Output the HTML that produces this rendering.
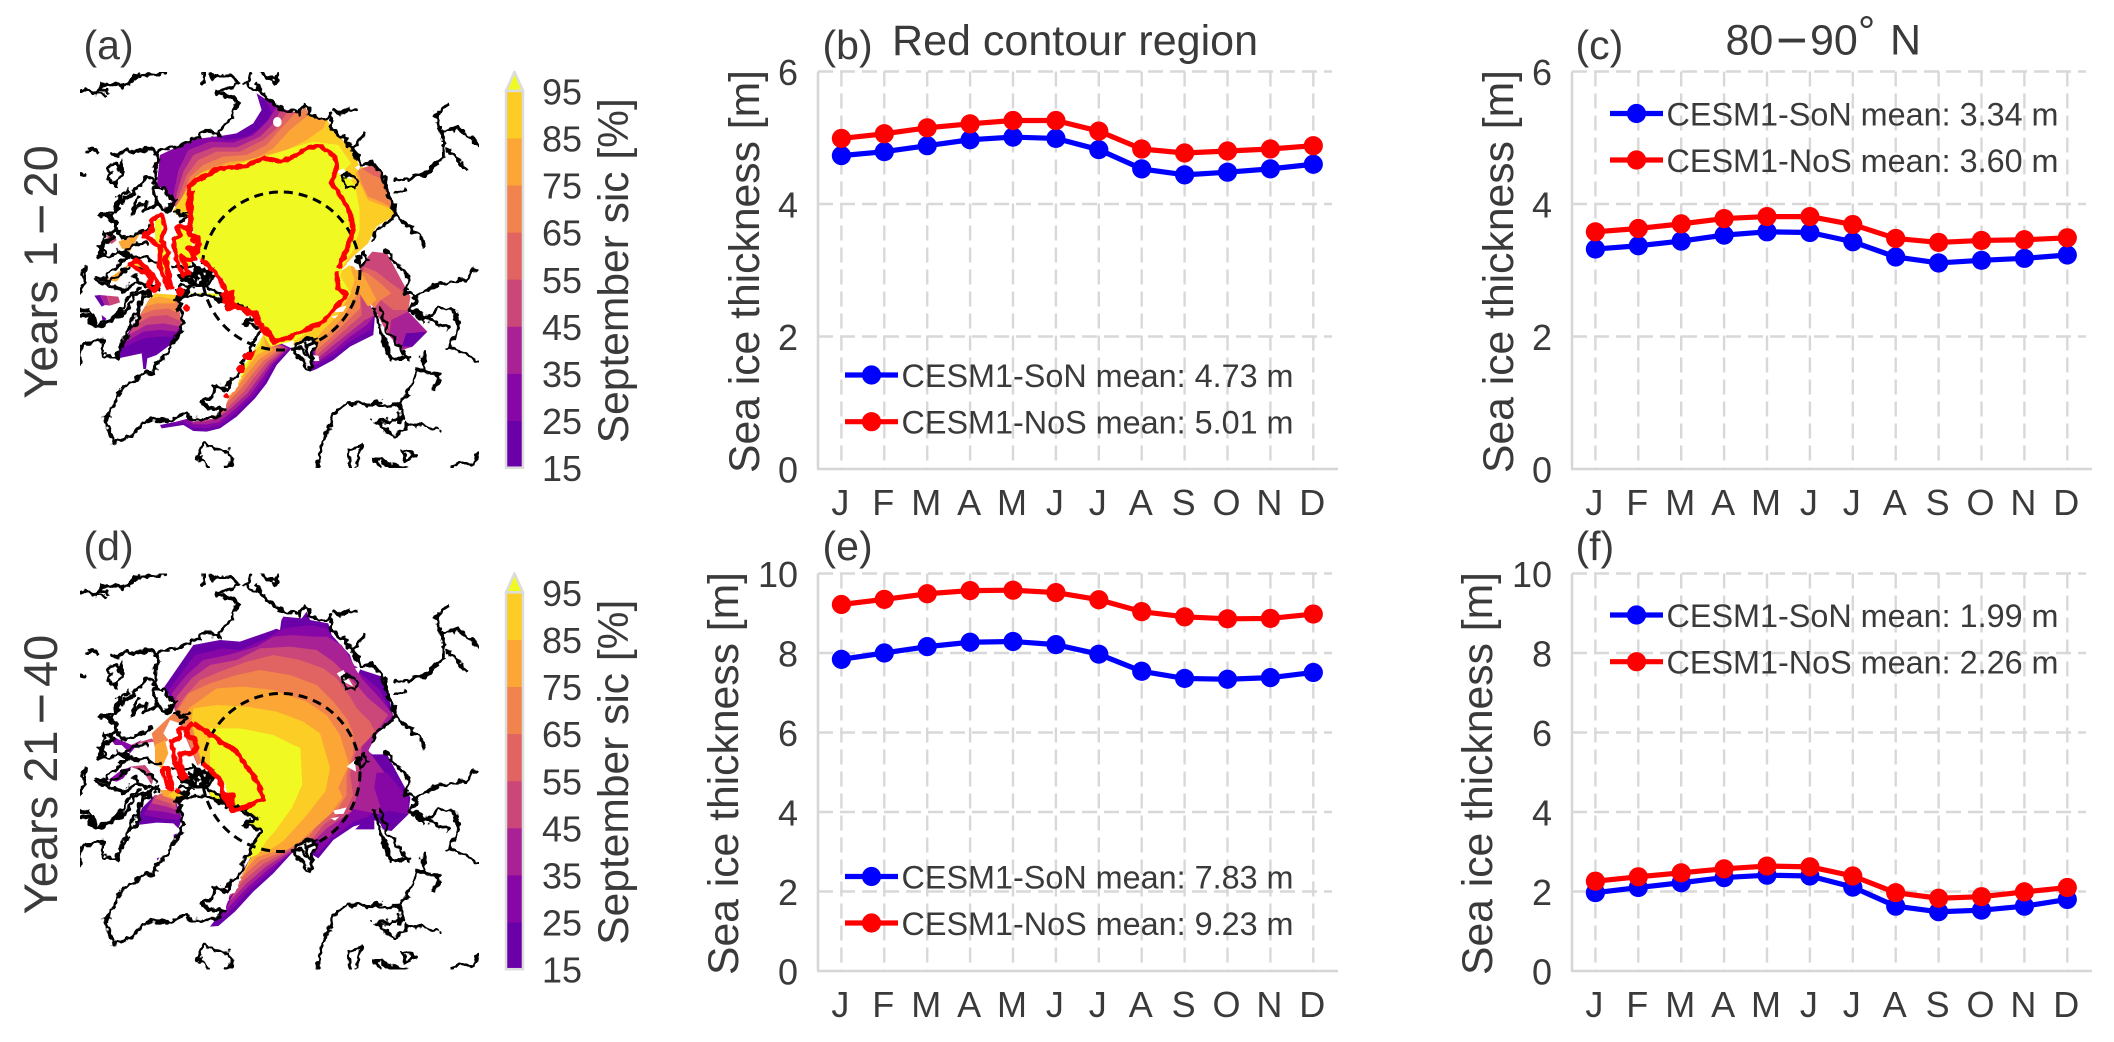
<!DOCTYPE html>
<html lang="en">
<head>
<meta charset="utf-8">
<title>Sea ice concentration and thickness</title>
<style>
html,body{margin:0;padding:0;background:#fff;width:2114px;height:1042px;overflow:hidden}
svg{display:block}
text{font-family:"Liberation Sans",sans-serif;fill:#3a3a3a}
.coast path{fill:none;stroke:#000;stroke-width:3.3;stroke-linejoin:round;stroke-linecap:round;vector-effect:non-scaling-stroke}
.red path,.red circle{fill:none;stroke:#f00;stroke-width:4.8;stroke-linejoin:round;vector-effect:non-scaling-stroke}
.red .blob{fill:#f00;stroke:none}
.c0{fill:#6a00a8}.c1{fill:#8606a6}.c2{fill:#a82296}.c3{fill:#cb4679}.c4{fill:#e16462}.c5{fill:#f1834c}.c6{fill:#fca636}.c7{fill:#fccd25}.c8{fill:#f0f921}.w{fill:#fff}
</style>
</head>
<body>
<svg id="fig" xmlns="http://www.w3.org/2000/svg" width="2114" height="1042" viewBox="0 0 2114 1042">
<defs>
<clipPath id="clipA"><rect x="80" y="72" width="399" height="396"/></clipPath>
<clipPath id="clipD"><rect x="80" y="573.5" width="399" height="396"/></clipPath>
<filter id="rough" filterUnits="userSpaceOnUse" x="60" y="50" width="440" height="440" color-interpolation-filters="sRGB">
  <feTurbulence type="fractalNoise" baseFrequency=".14" numOctaves="2" seed="4" result="n"/>
  <feDisplacementMap in="SourceGraphic" in2="n" scale="9" xChannelSelector="R" yChannelSelector="G"/>
</filter>
<filter id="roughRedA" filterUnits="userSpaceOnUse" x="60" y="50" width="440" height="440" color-interpolation-filters="sRGB">
  <feTurbulence type="fractalNoise" baseFrequency=".18" numOctaves="1" seed="9" result="n"/>
  <feDisplacementMap in="SourceGraphic" in2="n" scale="5" xChannelSelector="R" yChannelSelector="G"/>
</filter>
<filter id="roughRedD" filterUnits="userSpaceOnUse" x="60" y="550" width="440" height="440" color-interpolation-filters="sRGB">
  <feTurbulence type="fractalNoise" baseFrequency=".18" numOctaves="1" seed="9" result="n"/>
  <feDisplacementMap in="SourceGraphic" in2="n" scale="5" xChannelSelector="R" yChannelSelector="G"/>
</filter>
<g id="coastlines" class="coast">
  <g transform="translate(80,190) scale(.33333)">
    <polygon class="w" style="stroke:none" points="280,230 330,230 370,215 420,260 445,310 420,310 385,290 345,290 300,300 280,260"/>
  </g>
  <g transform="translate(60,265) scale(.33333)">
    <polygon class="w" style="stroke:none" points="350,105 370,170 355,210 330,240 320,265 290,290 280,320 245,325 215,350 185,370 170,410 135,460 150,500 160,535 215,510 260,465 300,465 335,470 380,440 400,465 470,455 490,430 510,395 530,370 550,330 550,280 570,255 580,225 605,200 580,180 555,175 585,150 530,130 490,110 445,90 390,90"/>
    <polygon class="w" style="stroke:none" points="700,250 735,220 765,225 750,320"/>
    <path d="M350,105 L370,170 355,210 330,240 320,265 290,290 280,320 245,325 215,350 185,370 170,410 135,460 150,500 160,535 215,510 260,465 300,465 335,470 380,440 400,465 470,455 490,430 445,430 430,410 460,390 465,360 500,375 510,345 540,330 550,280 570,255 580,225 605,200 580,180 555,175 585,150 530,130 490,110 445,90 390,90 Z"/>
    <path d="M60,30 L80,5 M60,90 L75,40 65,35 M60,150 L85,150 95,175 130,185 160,160 195,120 205,95 240,70 M60,295 L60,250 70,235 130,225 130,270 170,285 190,220 230,170 240,120 265,85 290,60 M110,40 L150,50 190,15 210,10"/>
    <path d="M700,250 L735,220 765,225 750,320 Z M720,250 L745,270 M735,235 L750,280"/>
    <path d="M445,608 L410,570 430,535 460,550 510,560 515,595 495,608"/>
    <path d="M770,608 L790,530 820,450 860,415 890,415 930,420 960,408 M870,608 L865,555 905,540 890,608 M940,580 L960,605 M940,470 L960,475"/>
  </g>
  <g transform="translate(60,60) scale(.33333)">
    <path d="M60,88 L90,92 105,102 125,76 180,72 185,80 215,65 235,45 275,42 315,37 M105,92 L135,108 M120,85 L140,95 M430,36 L428,72"/>
    <path d="M445,40 L460,52 500,42 535,65 505,85 470,95 490,106 515,110 538,128 515,155 510,180 490,198 480,225 440,213 400,235 360,255 305,268 292,282 265,262 240,277 200,268 180,282 155,285"/>
    <path d="M578,38 L565,60 553,70 570,85 597,90 590,68 605,100 660,145 720,160 735,132 750,150 745,165 800,175 815,165 812,205 860,240 875,265 905,315 M605,40 L630,50 645,68 655,38 M820,152 L840,160 870,145 890,150 M875,265 L900,240 920,212 M80,275 L95,265 112,278 M60,350 L72,345"/>
    <path d="M140,325 L165,312 175,330 190,298 182,345 165,372 145,355 155,335 Z"/>
    <path d="M295,285 L285,330 292,380 265,348 250,362 235,385 205,408 190,430 178,410 165,440 155,470 120,462 150,478 175,500 150,525 135,515 128,555 115,590"/>
    <path d="M280,385 L310,385 345,430 325,455 300,440 280,405 Z M215,460 L235,410 222,458 260,420 255,452 295,430 M845,350 L870,342 892,365 885,385 860,385 Z"/>
  </g>
  <g transform="translate(80,190) scale(.33333)">
    <path d="M0,255 L20,235 12,268 M110,60 L60,75 90,85 105,95 115,130 130,150 175,130 215,110 M110,60 L130,15 150,0 M100,140 L60,170 75,190 60,200 95,200 110,180 130,190 155,165 200,160 M50,265 L80,262 95,240 145,205 M130,190 L150,200 205,205 M45,275 L90,285 130,305 165,275 200,280 235,300 M0,360 L30,365 45,405 85,395 115,380 150,350 160,320 190,305 215,310 M135,445 L170,360 190,310"/>
    <path d="M280,230 L330,230 370,235 400,260 375,290 345,290 330,270 300,260 M285,65 L320,80 300,100 M330,60 L310,70 M290,300 L320,310 340,280 385,290 420,310 440,345 490,350 530,385 M340,220 L380,270 M360,240 L330,270 M370,280 L400,240 M305,270 L340,250 M260,60 L290,30 M240,220 L200,205 M325,245 L355,265 M350,235 L345,280 M385,245 L360,290 M300,285 L335,295 M160,255 L200,290 M185,235 L230,270"/>
  </g>
  <g transform="scale(.423,.33333)">
    <path d="M855,495 L880,490 905,520 915,570 935,640 920,665 890,690 880,720 M935,545 L1010,520 1050,470 1050,420 1030,345 1060,310 M1050,395 L1080,380 1130,435 M1060,450 L1100,505 M935,575 L960,570 M935,645 L1000,715 1003,740"/>
    <path d="M910,750 L965,830 960,880 985,890 1040,850 1100,840 1115,810 1130,808 M985,890 L970,930 1000,960 1040,925 1075,930 1085,990 1060,1040 1130,1080 M970,930 L1060,985"/>
    <path d="M1000,1060 L1000,1105 985,1110 1040,1125 1025,1170 M990,1110 L970,1160 945,1215 950,1260 890,1265 930,1310 960,1290 960,1270 1035,1285 M945,1215 L880,1215"/>
    <path d="M885,925 L905,1010 920,1075 965,1075 950,1050 M900,925 L915,990 950,1050 M885,1375 L920,1395 960,1405 M950,1350 L985,1365 960,1380 Z M1070,1400 L1090,1385 1115,1395 1130,1365 M842,770 L860,758 870,780 850,800 Z"/>
  </g>
</g>
</defs>

<!-- ============ MAP A ============ -->
<g clip-path="url(#clipA)">
  <g>
    <g transform="translate(60,60) scale(.33333)">
      <polygon class="c1" points="590,100 660,145 720,160 735,140 745,165 800,178 815,205 870,265 880,320 700,400 400,480 345,440 310,385 290,380 300,285 400,238 480,228 530,220 580,190 605,150"/>
      <polygon class="c0" points="590,100 620,125 635,160 610,200 560,230 500,240 478,232 530,220 580,190 605,150"/>
      <polygon class="c2" points="650,140 625,180 580,225 520,248 450,245 385,270 355,330 340,405 345,440 400,480 700,400 880,320 870,265 815,205 800,178 745,165 735,140 720,160 660,145"/>
      <polygon class="c3" points="662,150 640,190 600,230 530,262 460,262 400,285 370,335 350,400 345,440 400,480 700,400 880,320 870,265 815,205 800,178 745,165 735,140 720,160"/>
      <polygon class="c4" points="680,158 650,205 610,240 540,275 470,275 415,300 380,345 358,405 345,440 400,480 700,400 880,320 870,265 815,205 800,178 745,165 735,140 720,160"/>
      <polygon class="c5" points="705,160 650,220 620,255 560,285 490,290 430,315 390,350 365,415 345,440 400,480 700,400 880,320 870,265 815,205 800,178 745,165 735,140 720,160"/>
      <polygon class="c6" points="745,165 690,210 640,265 580,300 510,305 440,330 395,360 370,420 345,440 400,480 700,400 880,320 870,265 815,205 800,178"/>
      <polygon class="c7" points="800,178 790,205 740,240 680,270 600,290 510,315 430,335 400,355 380,390 345,445 400,480 700,400 880,320 870,265 815,205"/>
    </g>
    <g transform="translate(60,265) scale(.33333)">
      <polygon class="c0" points="750,320 770,312 820,285 870,245 940,210 945,150 900,60 880,0 720,100 760,215"/>
      <polygon class="c1" points="760,305 820,270 870,230 930,195 945,150 900,60 880,0 720,100 760,215"/>
      <polygon class="c2" points="765,295 820,258 870,215 920,180 945,150 900,60 880,0 720,100 760,215"/>
      <polygon class="c3" points="768,285 815,245 865,205 915,165 945,150 900,60 880,0 720,100 760,215"/>
      <polygon class="c4" points="770,270 810,235 860,190 905,150 900,60 880,0 720,100 760,215"/>
      <polygon class="c5" points="770,255 805,225 855,175 900,130 900,60 880,0 720,100 760,215"/>
      <polygon class="c6" points="770,240 800,210 850,155 890,90 895,30 880,0 720,100 760,215"/>
      <polygon class="c7" points="765,225 790,195 835,150 870,90 885,40 870,0 720,100 700,240"/>
      <polygon class="c0" points="695,250 650,300 620,355 585,400 530,455 480,490 440,500 400,498 370,480 305,490 300,480 350,470 380,462 400,470 470,460 490,430 510,395 530,370 550,330 580,260 610,210"/>
      <polygon class="c1" points="690,250 640,300 612,350 578,395 525,445 478,482 440,490 400,488 370,470 340,478 350,470 380,462 400,470 470,460 490,430 510,395 530,370 550,330 580,260 610,210"/>
      <polygon class="c2" points="685,250 635,298 603,345 570,390 520,437 475,472 440,478 400,478 385,465 400,470 470,460 490,430 510,395 530,370 550,330 580,260 610,210"/>
      <polygon class="c3" points="678,250 628,296 595,340 562,385 515,428 470,462 430,470 400,470 470,460 490,430 510,395 530,370 550,330 580,260 610,210"/>
      <polygon class="c4" points="668,252 620,292 585,335 553,378 510,420 470,460 490,430 510,395 530,370 550,330 580,260 610,210"/>
      <polygon class="c5" points="655,255 610,288 575,330 543,370 505,410 480,440 510,395 530,370 550,330 580,260 610,210"/>
      <polygon class="c6" points="640,256 600,280 563,325 533,365 500,400 490,425 510,395 530,370 550,330 580,260 610,210"/>
      <polygon class="c7" points="620,255 590,270 553,320 525,360 500,390 530,370 550,330 580,260 610,210"/>
      <polygon class="c8" points="600,240 575,270 545,310 520,350 550,330 580,260 610,210"/>
      <polygon class="c0" points="175,280 190,225 240,150 270,100 285,85 350,100 350,130 365,175 355,210 330,240 290,270 262,280 258,312 250,312 245,265"/>
      <polygon class="c1" points="185,250 250,220 300,215 345,215 365,175 350,100 285,85 270,100 240,150"/>
      <polygon class="c2" points="190,235 250,200 300,195 350,200 365,175 350,100 285,85 270,100 240,150"/>
      <polygon class="c3" points="205,210 260,180 310,175 360,185 365,175 350,100 285,85 270,100"/>
      <polygon class="c4" points="225,180 270,155 320,150 365,170 350,100 285,85 270,100"/>
      <polygon class="c5" points="240,150 280,135 325,130 355,145 350,100 285,85 270,100"/>
      <polygon class="c6" points="255,125 290,115 345,115 350,100 285,85 270,100"/>
      <polygon class="c7" points="270,100 300,95 350,105 350,90 285,85"/>
      <polygon class="c8" points="390,85 480,85 470,95 400,95"/>
      <polygon class="c0" points="103,92 125,125 135,120 120,90"/>
      <polygon class="c2" points="120,90 135,120 150,122 140,92"/>
      <polygon class="c3" points="140,92 150,122 180,112 175,95"/>
      <polygon class="c0" points="125,150 140,162 128,172"/>
    </g>
    <g transform="scale(.423,.33333)">
      <polygon class="c7" points="830,430 850,500 900,510 915,570 935,645 890,680 870,730 835,770 815,800 780,830 700,900 600,800 600,500"/>
      <polygon class="c6" points="840,520 870,600 932,630 915,570 905,520 850,505"/>
      <polygon class="c5" points="845,510 880,495 905,520 915,570 930,625 900,605 870,590 855,550"/>
      <polygon class="c4" points="855,505 880,495 905,520 910,540 880,525"/>
      <polygon class="c3" points="880,755 915,760 970,890 965,935 1010,995 975,1040 950,1050 915,1000 885,925 860,860 850,800"/>
      <polygon class="c4" points="860,800 890,815 925,850 970,890 965,930 930,930 900,900 885,925 850,870"/>
      <polygon class="c5" points="845,810 870,820 900,850 925,880 900,900 885,925 870,900 850,860"/>
      <polygon class="c6" points="830,810 850,810 870,850 890,900 870,920 850,880"/>
      <polygon class="c2" points="925,960 965,935 1010,995 975,1040 950,1050 920,1005"/>
      <polygon class="c0" points="950,1040 960,1000 1010,995 975,1040"/>
      <polygon class="c8" points="450,560 470,530 500,510 570,490 640,465 700,440 740,425 800,435 830,490 815,510 840,560 850,630 850,690 835,750 810,800 805,830 830,880 780,950 700,1020 640,1040 620,1000 600,950 540,900 530,850 480,790 460,760 455,650"/>
    </g>
    <g transform="translate(80,190) scale(.33333)">
      <polygon class="c3" points="82,135 98,128 110,150 95,162 82,150"/>
      <polygon class="c6" points="115,155 180,130 150,185 125,175"/>
      <polygon class="c7" points="280,60 330,10 330,50 290,75"/>
      <polygon class="c6" points="80,270 130,235 155,215 110,275"/>
      <polygon class="c8" points="225,90 245,85 250,145 240,160 270,200 268,280 240,220 225,150"/>
      <polygon class="c8" points="295,115 320,115 335,140 340,200 320,250 295,205 285,150"/>
      <polygon class="c7" points="160,225 175,215 215,250 205,260 190,240"/>
    </g>
  </g>
  <g>
    <g transform="translate(60,60) scale(.33333)">
      <ellipse class="w" cx="652" cy="186" rx="13" ry="15"/>
      <polygon class="w" points="830,335 850,325 880,360 850,350"/>
      <polygon class="w" points="885,322 905,310 895,332"/>
      <polygon class="w" points="860,610 885,585 890,625"/>
    </g>
    <g transform="translate(60,265) scale(.33333)">
      <polygon class="w" points="820,132 860,122 850,140 825,142"/>
      <polygon class="w" points="812,155 835,150 825,160"/>
      <polygon class="w" points="750,270 775,272 778,288 755,288"/>
    </g>
  </g>
  <use href="#coastlines" filter="url(#rough)"/>
  <circle cx="281" cy="271" r="79" fill="none" stroke="#000" stroke-width="3" stroke-dasharray="9 6"/>
  <g class="red" filter="url(#roughRedA)">
    <g transform="translate(60,60) scale(.33333)">
      <path d="M390,470 L385,430 388,380 410,360 440,345 480,325 550,320 610,295 665,305 690,295 745,262 780,258 825,290 830,320 815,370 850,420 870,460 880,510 860,570 835,625"/>
    </g>
    <g transform="translate(60,265) scale(.33333)">
      <path d="M830,20 L835,70 860,90 790,170 680,220 640,230 630,205 600,180 590,145 530,125 500,110"/>
      <polygon class="blob" points="482,85 520,72 528,130 500,140"/>
      <polygon class="blob" points="580,170 610,172 640,220 612,212"/>
      <polygon class="blob" points="545,270 590,255 575,285 550,285"/>
      <circle class="blob" cx="543" cy="312" r="13"/>
      <circle class="blob" cx="498" cy="393" r="8"/>
      <circle class="blob" cx="380" cy="130" r="10"/>
    </g>
    <g transform="translate(80,190) scale(.33333)">
      <path d="M335,0 L330,130 355,160 350,190 M365,210 L410,250 440,310 470,350 520,375 540,410 570,435"/>
      <path d="M215,90 L245,72 255,115 245,150 265,190 255,210 275,290 265,295 240,230 240,170 190,135 215,125 Z"/>
      <path d="M290,110 L320,110 330,135 355,145 355,175 325,175 345,205 320,210 305,200 325,250 310,258 290,210 280,150 300,135 Z"/>
      <path d="M150,225 L170,210 215,250 235,280 225,300 205,290 215,260 190,245 Z"/>
      <circle class="blob" cx="300" cy="305" r="13"/>
      <circle class="blob" cx="345" cy="150" r="12"/>
      <circle class="blob" cx="345" cy="185" r="10"/>
    </g>
  </g>
</g>

<!-- ============ MAP D ============ -->
<g clip-path="url(#clipD)">
  <g>
    <g transform="translate(60,565) scale(.33333)">
      <polygon class="c0" points="400,240 480,225 540,230 640,195 650,190 670,155 725,160 740,140 750,165 805,175 815,210 870,270 880,300 905,315 975,338 1000,458 949,508 924,558 937,568 981,568 1051,698 1045,748 994,798 943,765 880,785 820,825 775,880 750,865 760,840 695,865 640,925 580,980 525,1040 475,1083 450,1085 485,1040 500,1000 600,830 450,690 450,600 350,420 310,370"/>
      <polygon class="c1" points="325,375 405,270 490,250 540,255 620,220 670,190 750,180 800,190 815,215 870,275 885,310 920,340 960,375 1000,458 949,508 924,558 1030,700 1040,748 994,798 943,750 880,770 815,820 772,868 760,840 690,865 632,920 572,973 518,1030 485,1060 500,1000 600,830 450,690 350,430"/>
      <polygon class="c2" points="335,385 380,330 430,285 510,268 590,245 640,215 700,210 760,215 800,215 845,240 865,270 885,305 905,340 960,400 1000,450 949,505 924,555 1030,700 1030,745 994,790 943,745 870,730 805,820 770,825 690,865 625,913 565,965 512,1020 495,1040 600,830 450,690 345,440"/>
      <polygon class="c3" points="350,395 395,340 450,300 530,285 600,250 690,245 770,255 820,290 860,330 890,360 925,400 985,450 949,500 905,545 900,600 895,680 875,740 800,790 760,830 690,860 618,905 558,957 508,1010 600,830 450,690 345,440"/>
      <polygon class="c4" points="370,400 420,345 480,320 560,290 640,270 720,285 790,310 830,340 870,395 890,430 930,470 945,500 885,565 870,630 880,690 860,730 790,780 755,825 680,860 610,897 550,947 505,1000 600,830 450,690 345,440"/>
      <polygon class="c5" points="350,440 385,385 450,355 530,330 600,315 690,330 770,360 820,410 860,460 880,505 880,565 860,630 860,690 835,730 780,770 735,830 670,860 600,887 545,937 510,990 600,830 450,690"/>
      <polygon class="c6" points="380,430 400,420 470,370 550,365 640,375 740,410 800,450 840,510 867,598 835,668 848,698 810,748 721,828 683,853 625,865 590,877 555,915 530,960 600,830 450,690"/>
      <polygon class="c7" points="395,470 400,430 470,420 560,425 650,440 730,470 780,505 810,608 797,678 734,758 670,828 632,853 585,865 565,890 545,940 600,830 450,690"/>
      <polygon class="c8" points="450,490 540,490 640,510 700,540 721,548 727,658 696,728 645,798 619,828 594,868 565,880 540,880 570,780 450,690"/>
    </g>
    <g transform="scale(.423,.33333) translate(0,1563)">
      <polygon class="c1" points="890,755 915,755 965,830 965,880 925,925 905,880 885,800"/>
      <polygon class="c0" points="920,870 965,880 925,930 905,925 890,880"/>
      <polygon class="c0" points="885,870 855,905 840,925 885,925"/>
    </g>
    <g transform="translate(80,690) scale(.33333)">
      <polygon class="c1" points="85,140 105,165 125,165 150,190 185,150 155,165 120,150 100,140"/>
      <polygon class="c1" points="85,270 125,240 155,230 130,265 110,275"/>
      <polygon class="c3" points="150,165 215,145 225,155 185,160"/>
      <polygon class="c5" points="215,130 290,60 330,50 300,100 270,90 250,130 265,150 225,175"/>
      <polygon class="c6" points="225,165 255,150 265,190 245,235 225,220"/>
      <polygon class="c3" points="150,230 195,225 222,260 215,285 190,245"/>
    </g>
    <g transform="translate(60,770) scale(.33333)">
      <polygon class="c0" points="232,165 245,115 285,75 345,95 365,150 355,175 340,160 290,158"/>
      <polygon class="c1" points="250,135 300,145 350,150 365,145 345,85 285,75"/>
      <polygon class="c2" points="260,120 310,125 355,135 345,85 285,75"/>
      <polygon class="c3" points="275,100 320,110 350,120 345,85 285,75"/>
      <polygon class="c4" points="285,85 330,100 345,110 345,75 300,70"/>
      <polygon class="c6" points="310,78 345,90 375,90 350,60 300,60"/>
      <polygon class="c7" points="325,75 360,95 382,85 350,60"/>
      <polygon class="c0" points="340,195 350,190 352,202 344,205"/>
      <polygon class="c0" points="186,205 192,202 188,220"/>
      <polygon class="c0" points="290,265 298,262 293,272"/>
    </g>
  </g>
  <g>
    <g transform="translate(60,565) scale(.33333)">
      <polygon class="w" points="830,325 850,315 880,365 850,350"/>
      <polygon class="w" points="885,310 905,305 895,325"/>
      <polygon class="w" points="645,190 665,158 660,195"/>
      <polygon class="w" points="860,605 885,585 888,620"/>
    </g>
    <g transform="translate(60,770) scale(.33333)">
      <polygon class="w" points="820,122 860,112 850,132 825,132"/>
      <polygon class="w" points="812,145 838,140 825,152"/>
    </g>
  </g>
  <use href="#coastlines" transform="translate(0,501.5)" filter="url(#rough)"/>
  <circle cx="281" cy="772.5" r="79" fill="none" stroke="#000" stroke-width="3" stroke-dasharray="9 6"/>
  <g class="red" filter="url(#roughRedD)">
    <g transform="translate(80,690) scale(.33333)">
      <path d="M340,100 L400,140 470,185 500,230 530,270 550,330 520,340 460,365 430,320 420,270 370,220"/>
      <polygon class="blob" points="425,310 465,305 468,345 440,355"/>
      <path d="M295,120 L325,112 320,140 345,145 350,175 335,190 300,190 300,225 320,260 305,262 285,215 275,155 300,140 Z"/>
      <path d="M325,112 L340,100 M245,240 L262,235 278,295 262,290 Z"/>
      <circle class="blob" cx="295" cy="302" r="8"/>
    </g>
  </g>
</g>

<!-- static labels -->
<text x="83.5" y="59" font-size="41">(a)</text>
<text x="83.5" y="560" font-size="41">(d)</text>
<text x="822.5" y="59" font-size="41">(b)</text>
<text x="1575.5" y="59" font-size="41">(c)</text>
<text x="822.5" y="560" font-size="41">(e)</text>
<text x="1575.5" y="560" font-size="41">(f)</text>
<text transform="translate(57,272) rotate(-90)" text-anchor="middle" font-size="47">Years 1<tspan dx="6" dy="2.5" font-size="54">−</tspan><tspan dx="6" dy="-2.5">20</tspan></text>
<text transform="translate(57,774.5) rotate(-90)" text-anchor="middle" font-size="47">Years 21<tspan dx="6" dy="2.5" font-size="54">−</tspan><tspan dx="6" dy="-2.5">40</tspan></text>
<text x="892" y="55" font-size="43" textLength="366" lengthAdjust="spacingAndGlyphs">Red contour region</text>
<text y="54.5" font-size="43"><tspan x="1725.5">80</tspan><tspan x="1776" y="58.5" font-size="54">−</tspan><tspan x="1810" y="54.5">90</tspan><tspan x="1858" y="46">°</tspan><tspan x="1890" y="54.5">N</tspan></text>
<g id="charts"></g>
</svg>
<script>
// ---- shared categories and ticks ----
const months = ['J','F','M','A','M','J','J','A','S','O','N','D'];
const ticksRow1 = [0,2,4,6];
const ticksRow2 = [0,2,4,6,8,10];
const colorbarTicks = [15,25,35,45,55,65,75,85,95];

// ---- series values (m) ----
const sonB = [4.73,4.79,4.88,4.97,5.01,4.99,4.82,4.53,4.44,4.48,4.53,4.60];
const nosB = [4.99,5.06,5.15,5.21,5.26,5.26,5.10,4.83,4.77,4.80,4.83,4.88];
const sonC = [3.32,3.37,3.44,3.53,3.58,3.57,3.43,3.20,3.11,3.15,3.18,3.23];
const nosC = [3.58,3.63,3.70,3.78,3.81,3.81,3.69,3.48,3.42,3.45,3.46,3.49];
const sonE = [7.84,8.00,8.16,8.27,8.29,8.21,7.97,7.54,7.36,7.34,7.38,7.51];
const nosE = [9.22,9.35,9.49,9.57,9.58,9.52,9.34,9.04,8.91,8.86,8.87,8.98];
const sonF = [1.97,2.10,2.22,2.35,2.41,2.39,2.11,1.63,1.49,1.53,1.63,1.80];
const nosF = [2.26,2.37,2.47,2.57,2.64,2.62,2.39,1.97,1.83,1.87,1.99,2.10];

const palette = {15:'#6a00a8',25:'#8606a6',35:'#a82296',45:'#cb4679',55:'#e16462',65:'#f1834c',75:'#fca636',85:'#fccd25',95:'#f0f921'};
const NS = 'http://www.w3.org/2000/svg';
const root = document.getElementById('charts');

function mk(parent, tag, attrs, txt){
  const e = document.createElementNS(NS, tag);
  for (const k in attrs) e.setAttribute(k, attrs[k]);
  if (txt !== undefined) e.textContent = txt;
  parent.appendChild(e);
  return e;
}

function drawColorbar(id, top){
  const g = mk(root, 'g', {});
  
  
  const x0 = 506, x1 = 523;
  const bandH = 47.1;
  const yOf = function(level){ return top + 377 - (level - colorbarTicks[0]) / 10 * bandH; };
  const tri = mk(g, 'polygon', {points: x0+','+yOf(95)+' '+x1+','+yOf(95)+' '+((x0+x1)/2)+','+(yOf(95)-19), fill: palette[95], stroke: '#dcdcdc', 'stroke-width': 2.5, 'stroke-linejoin':'round'});
  
  
  colorbarTicks.slice(0, -1).forEach(function(level){
    const r = mk(g, 'rect', {x: x0, y: yOf(level + 10), width: x1 - x0, height: bandH + .4, fill: palette[level]});
    
    
  });
  mk(g, 'rect', {x: x0, y: yOf(95), width: x1 - x0, height: yOf(15) - yOf(95), fill: 'none', stroke: '#dcdcdc', 'stroke-width': 2.5});
  colorbarTicks.forEach(function(level){
    const t = mk(g, 'text', {x: 542, y: yOf(level) + 13.5, 'font-size': 36}, String(level));
    
    
  });
  const lab = mk(g, 'text', {transform: 'translate(628,' + (top + 180) + ') rotate(-90)', 'text-anchor': 'middle', 'font-size': 42.5, textLength: 345, lengthAdjust: 'spacingAndGlyphs'}, 'September sic [%]');
  
  
}

function drawPanel(id, left, top, yMax, yTicks, son, nos, labels, legX, legY1, legY2, labelX){
  const right = left + 520, bottom = top + 397.5;
  const xScale = function(i){ return left + 23.4 + i * 42.9; };
  const yScale = function(v){ return bottom - v / yMax * (bottom - top); };
  const g = mk(root, 'g', {});
  
  

  const grid = mk(g, 'g', {stroke: '#d8d8d8', 'stroke-width': 2.4, 'stroke-dasharray': '15 7'});
  
  
  yTicks.forEach(function(v){
    if (v !== 0) mk(grid, 'line', {x1: left, x2: right - 6, y1: yScale(v), y2: yScale(v)});
  });
  months.forEach(function(m, i){
    mk(grid, 'line', {x1: xScale(i), x2: xScale(i), y1: top, y2: bottom});
  });
  const axL = mk(g, 'line', {x1: left, x2: left, y1: top, y2: bottom, stroke: '#d6d6d6', 'stroke-width': 2.5});
  
  
  const axB = mk(g, 'line', {x1: left - 1, x2: right, y1: bottom, y2: bottom, stroke: '#d6d6d6', 'stroke-width': 2.5});
  
  

  yTicks.forEach(function(v){
    const t = mk(g, 'text', {x: left - 20, y: yScale(v) + 13.5, 'text-anchor': 'end', 'font-size': 36}, String(v));
    
    
  });
  months.forEach(function(m, i){
    const t = mk(g, 'text', {x: xScale(i) - 1, y: bottom + 46, 'text-anchor': 'middle', 'font-size': 36}, m);
    
    
  });
  const yl = mk(g, 'text', {transform: 'translate(' + labelX + ',' + (top + 200) + ') rotate(-90)', 'text-anchor': 'middle', 'font-size': 42.5, textLength: 403, lengthAdjust: 'spacingAndGlyphs'}, 'Sea ice thickness [m]');
  
  

  [[son, '#0000ff', 'cesm1-son'], [nos, '#ff0000', 'cesm1-nos']].forEach(function(s){
    const sg = mk(g, 'g', {});
    
    
    const pts = s[0].map(function(v, i){ return xScale(i) + ',' + yScale(v); }).join(' ');
    mk(sg, 'polyline', {points: pts, fill: 'none', stroke: s[1], 'stroke-width': 5.2, 'stroke-linejoin': 'round'});
    s[0].forEach(function(v, i){
      const c = mk(sg, 'circle', {cx: xScale(i), cy: yScale(v), r: 9.6, fill: s[1]});
      
      
    });
  });

  [[legY1, '#0000ff', labels[0]], [legY2, '#ff0000', labels[1]]].forEach(function(l){
    const lg = mk(g, 'g', {});
    
    
    mk(lg, 'line', {x1: legX, x2: legX + 53, y1: l[0], y2: l[0], stroke: l[1], 'stroke-width': 5.2});
    mk(lg, 'circle', {cx: legX + 26.5, cy: l[0], r: 9.6, fill: l[1]});
    mk(lg, 'text', {x: legX + 56.5, y: l[0] + 12, 'font-size': 32, textLength: 392, lengthAdjust: 'spacingAndGlyphs'}, l[2]);
  });
}

drawColorbar('a', 90.7);
drawColorbar('d', 592.2);
drawPanel('b', 818, 71.5, 6, ticksRow1, sonB, nosB, ['CESM1-SoN mean: 4.73 m','CESM1-NoS mean: 5.01 m'], 845, 375, 421.7, 759);
drawPanel('c', 1572, 71.5, 6, ticksRow1, sonC, nosC, ['CESM1-SoN mean: 3.34 m','CESM1-NoS mean: 3.60 m'], 1610, 113.5, 160, 1513);
drawPanel('e', 818, 573.5, 10, ticksRow2, sonE, nosE, ['CESM1-SoN mean: 7.83 m','CESM1-NoS mean: 9.23 m'], 845, 876.5, 923, 738);
drawPanel('f', 1572, 573.5, 10, ticksRow2, sonF, nosF, ['CESM1-SoN mean: 1.99 m','CESM1-NoS mean: 2.26 m'], 1610, 615, 661.7, 1492);
</script>
</body>
</html>
